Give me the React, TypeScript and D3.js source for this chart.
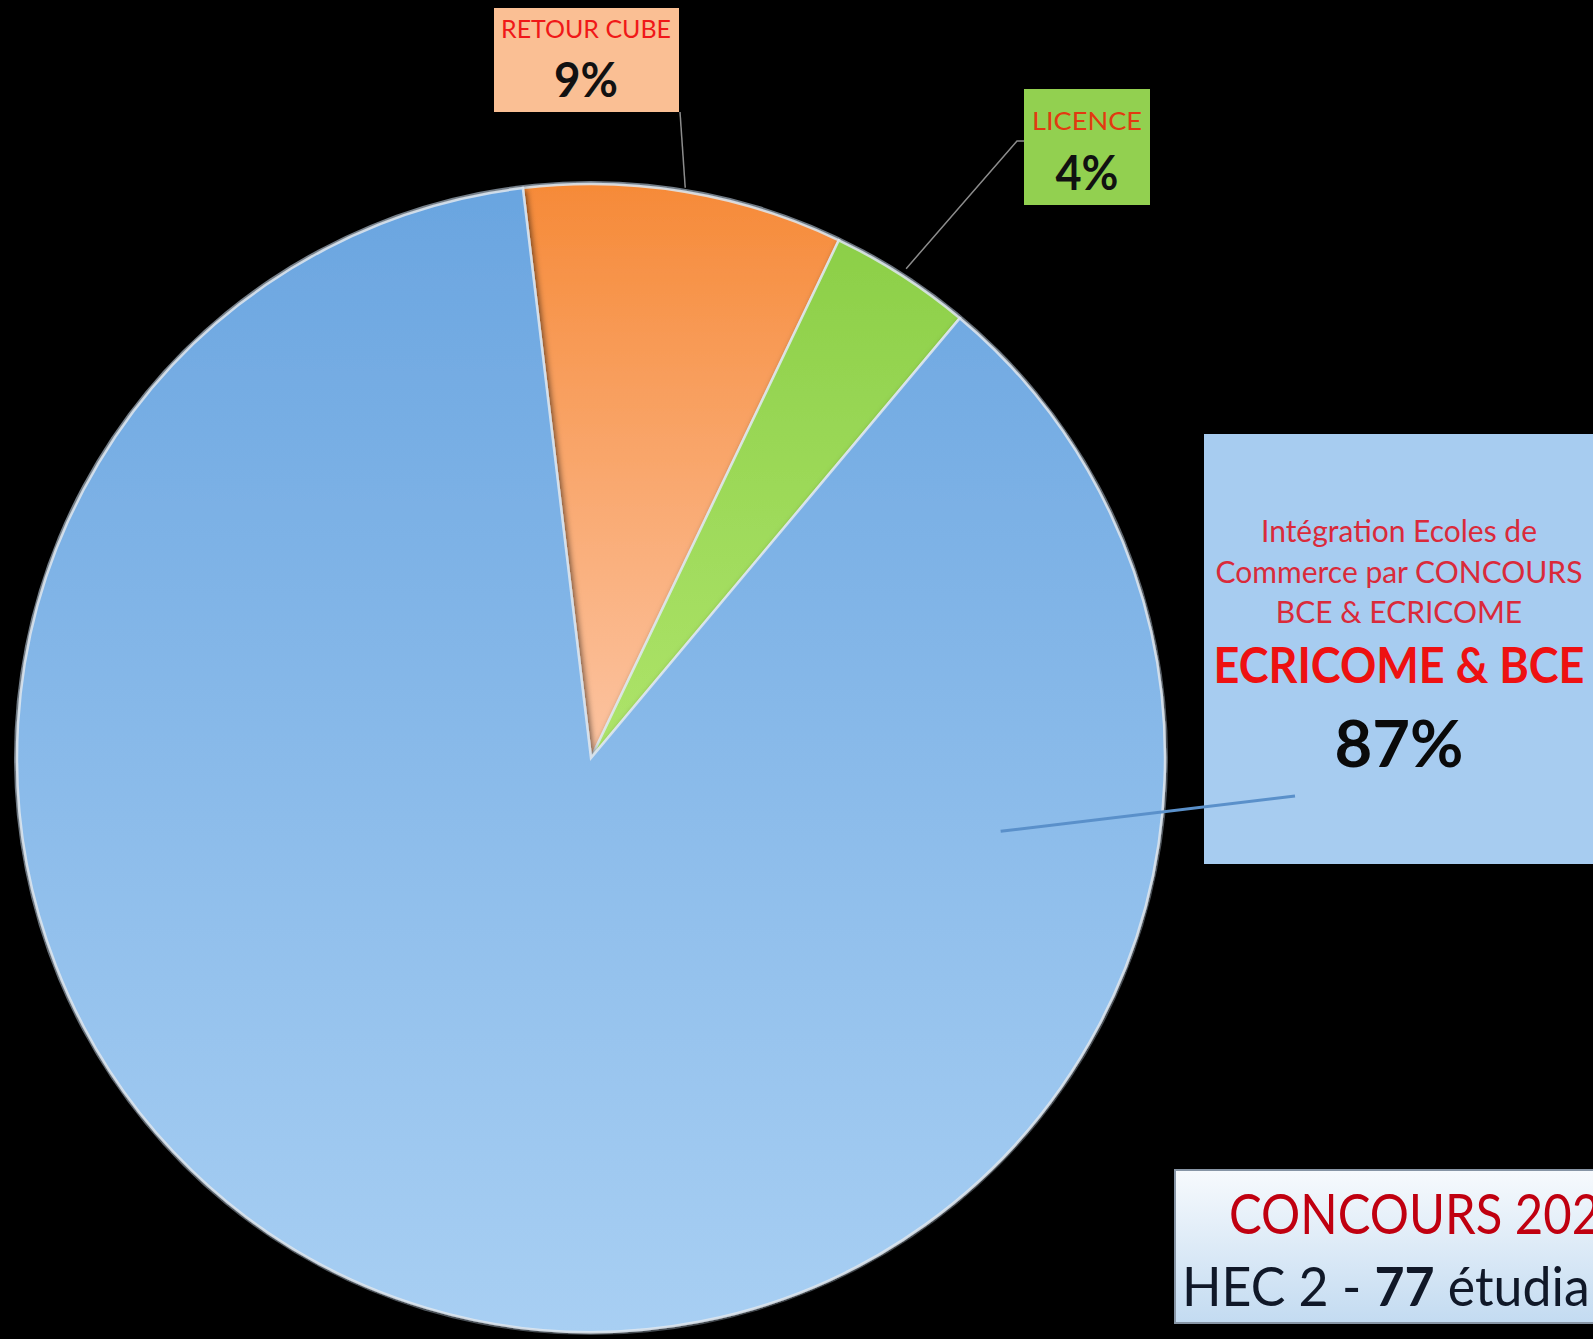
import React from 'react';
import * as d3 from 'd3';

const categories = ['RETOUR CUBE', 'LICENCE', 'ECRICOME & BCE'];
const values = [9, 4, 87];
const percentLabels = ['9%', '4%', '87%'];
const topColors = ['#F68A38', '#8CCF48', '#6AA5E0'];
const bottomColors = ['#FCC4A2', '#AEE46A', '#A8CFF3'];

const subtitleLines = ['Intégration Ecoles de', 'Commerce par CONCOURS', 'BCE & ECRICOME'];

const W = 1593;
const H = 1339;
const cx = 591;
const cy = 758;
const R = 574;
const FONT = 'Lato, "Open Sans", sans-serif';

export default function App() {
  // la tranche orange commence un peu avant midi
  const pie = d3.pie<number>().sort(null)
    .startAngle(-0.119)
    .endAngle(-0.119 + Math.PI * 2);
  const slices = pie(values);
  const arc = d3.arc<d3.PieArcDatum<number>>().innerRadius(0).outerRadius(R);

  const polar = (a: number, r: number) => [cx + r * Math.sin(a), cy - r * Math.cos(a)];
  const mid = (s: d3.PieArcDatum<number>) => (s.startAngle + s.endAngle) / 2;

  const orangeEnd = polar(mid(slices[0]), R + 4);
  const greenEnd = polar(mid(slices[1]), R + 8);
  const blueStart = polar(slices[2].startAngle + 1.05, R * 0.725);

  return (
    <svg width={W} height={H} style={{ position: 'absolute', left: 0, top: 0, background: '#000' }}>
      <defs>
        {slices.map((s, i) => (
          <linearGradient key={i} id={`g${i}`} x1="0" y1="0" x2="0" y2="1">
            <stop offset="0%" stopColor={topColors[i]} />
            <stop offset="100%" stopColor={bottomColors[i]} />
          </linearGradient>
        ))}
        <linearGradient id="boxg" x1="0" y1="0" x2="0" y2="1">
          <stop offset="0%" stopColor="#F7FAFD" />
          <stop offset="100%" stopColor="#C3DBF1" />
        </linearGradient>
        <filter id="shadow" x="-10%" y="-10%" width="120%" height="120%">
          <feDropShadow dx="2" dy="3" stdDeviation="3" floodColor="#000" floodOpacity="0.6" />
        </filter>
      </defs>

      <rect x={0} y={0} width={W} height={H} fill="#000" />

      {/* Camembert */}
      <g transform={`translate(${cx},${cy})`}>
        <circle r={R + 3} fill="#7a8590" />
        {slices.map((s, i) => (
          <path key={i} d={arc(s) || ''} fill={`url(#g${i})`}
            stroke="#dfe8f0" strokeWidth={2.5} strokeOpacity={0.85}
            filter="url(#shadow)" />
        ))}
      </g>

      {/* Etiquette RETOUR CUBE */}
      <line x1={680} y1={112} x2={orangeEnd[0]} y2={orangeEnd[1]} stroke="#8c8c8c" strokeWidth={1.5} />
      <rect x={494} y={8} width={185} height={104} fill="#FABF94" />
      <text x={586} y={38} textAnchor="middle" fontFamily={FONT} fontSize={25} fill="#F01818"
        textLength={170} lengthAdjust="spacingAndGlyphs">{categories[0]}</text>
      <text x={586} y={97} textAnchor="middle" fontFamily={FONT} fontSize={47} fontWeight="bold" fill="#111"
        textLength={64} lengthAdjust="spacingAndGlyphs">{percentLabels[0]}</text>

      {/* Etiquette LICENCE */}
      <polyline points={`1024,141 1017,141 ${greenEnd[0]},${greenEnd[1]}`} fill="none" stroke="#8c8c8c" strokeWidth={1.5} />
      <rect x={1024} y={89} width={126} height={116} fill="#92D050" />
      <text x={1087} y={130} textAnchor="middle" fontFamily={FONT} fontSize={25} fill="#E23A10"
        textLength={110} lengthAdjust="spacingAndGlyphs">{categories[1]}</text>
      <text x={1087} y={190} textAnchor="middle" fontFamily={FONT} fontSize={47} fontWeight="bold" fill="#111"
        textLength={63} lengthAdjust="spacingAndGlyphs">{percentLabels[1]}</text>

      {/* Etiquette ECRICOME & BCE */}
      <rect x={1204} y={434} width={420} height={430} fill="#A7CCF0" />
      {subtitleLines.map((t, i) => (
        <text key={i} x={1399} y={542 + i * 40.5} textAnchor="middle" fontFamily={FONT} fontSize={30}
          fill="#DA2A3A">{t}</text>
      ))}
      <text x={1399} y={683} textAnchor="middle" fontFamily={FONT} fontSize={50} fontWeight="bold" fill="#EE1111"
        textLength={371} lengthAdjust="spacingAndGlyphs">{categories[2]}</text>
      <text x={1399} y={767} textAnchor="middle" fontFamily={FONT} fontSize={65} fontWeight="bold" fill="#0a0a0a"
        textLength={129} lengthAdjust="spacingAndGlyphs">{percentLabels[2]}</text>
      <line x1={blueStart[0]} y1={blueStart[1]} x2={1295} y2={796} stroke="#5A90CA" strokeWidth={3} />

      {/* Titre */}
      <rect x={1175} y={1170} width={460} height={153} fill="url(#boxg)" stroke="#8795a5" strokeWidth={2} />
      <text transform="translate(1229,1234) scale(0.86,1)" fontFamily={FONT} fontSize={57} fill="#C00010">CONCOURS 2021</text>
      <text transform="translate(1182,1306) scale(0.96,1)" fontFamily={FONT} fontSize={54} fill="#101828">
        HEC 2 - <tspan fontWeight="bold">77</tspan> étudiants
      </text>
    </svg>
  );
}
